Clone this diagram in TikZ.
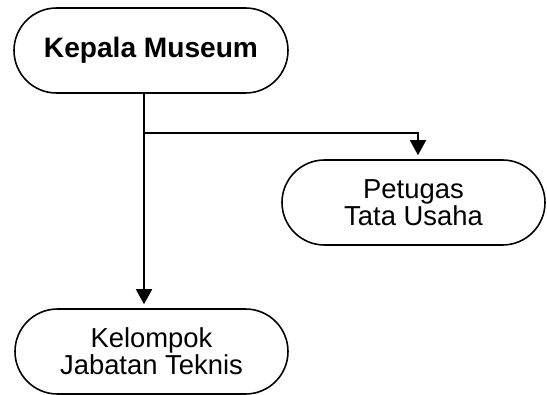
\documentclass[tikz,border=0pt]{standalone}
\usepackage{fontspec}
\setmainfont{Liberation Sans}
\usetikzlibrary{arrows.meta, positioning}
\tikzset{unitbox/.style={draw, line width=0.9pt, rounded corners=0.85cm, minimum height=1.7cm,
  align=center, inner sep=0pt, font=\fontsize{15.6}{14.5}\selectfont},
link/.style={line width=0.9pt},
linkarrow/.style={link, -{Triangle[length=0.3cm,width=0.32cm]}, shorten >=0.08cm}}

\begin{document}
\begin{tikzpicture}
        \useasboundingbox (0,0) rectangle (10.94,-7.88);

        % === Boxes ===
        \node[unitbox, minimum width=5.48cm, font=\bfseries\fontsize{16}{19}\selectfont] (kepala) at (3.02,-1.01) {Kepala Museum};
        \node[unitbox, minimum width=5.26cm] (petugas) at (8.27,-4.05) {Petugas\\Tata Usaha};
        \node[unitbox, minimum width=5.46cm] (kelompok) at (3.03,-7.03) {Kelompok\\Jabatan Teknis};

        % === Lines ===
        \coordinate (kepala_out) at ([xshift=-0.14cm]kepala.south);
        \coordinate (branch) at ([yshift=-0.78cm]kepala_out);
        \draw[linkarrow] (kepala_out) -- (kepala_out |- kelompok.north);
        \draw[linkarrow] (branch) -| ([xshift=0.09cm]petugas.north);
\end{tikzpicture}
\end{document}
